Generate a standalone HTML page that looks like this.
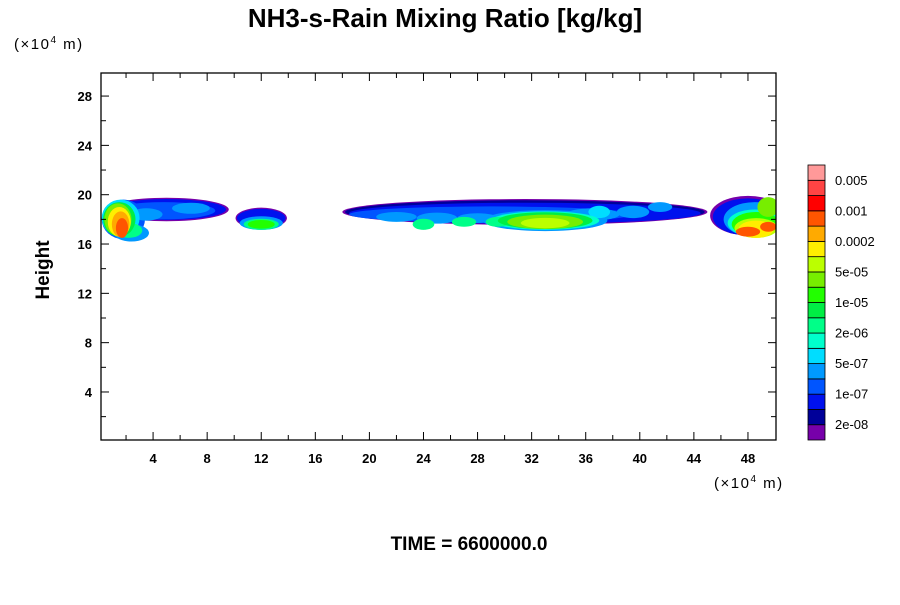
<!DOCTYPE html>
<html><head><meta charset="utf-8"><style>
body{margin:0;background:#fff}
svg text{font-family:"Liberation Sans",sans-serif}
</style></head><body>
<svg id="c" width="900" height="600" xmlns="http://www.w3.org/2000/svg">
<text x="445" y="27" text-anchor="middle" font-size="26" font-weight="bold">NH3-s-Rain Mixing Ratio [kg/kg]</text>
<text x="14" y="49" font-size="15" letter-spacing="1.5">(×10<tspan dy="-6" font-size="10">4</tspan><tspan dy="6">  m)</tspan></text>
<text x="714" y="488" font-size="15" letter-spacing="1.5">(×10<tspan dy="-6" font-size="10">4</tspan><tspan dy="6">  m)</tspan></text>
<text transform="translate(49,270) rotate(-90)" text-anchor="middle" font-size="19" font-weight="bold">Height</text>
<text x="469" y="550" text-anchor="middle" font-size="19" font-weight="bold">TIME = 6600000.0</text>
<g id="plot"></g>
<g id="axes"></g>
<g id="cbar"></g>
</svg>
<script>
const xTicks=[4,8,12,16,20,24,28,32,36,40,44,48];
const yTicks=[4,8,12,16,20,24,28];
const colors=["#7700aa","#000099","#0011ee","#0055ff","#0099ff","#00ddff","#00ffcc","#00ff88","#00ee44","#22ff00","#77ee00","#bbff00","#ffee00","#ffaa00","#ff5500","#ff0000","#ff4444","#ff9999"];
const cbarLabels=["2e-08","1e-07","5e-07","2e-06","1e-05","5e-05","0.0002","0.001","0.005"];
// blobs: [cx, cy, rx, ry, level] in data units
const blobs=[
[5.0,18.8,4.6,0.95,0],[5.0,18.8,4.4,0.85,2],[4.8,18.7,3.8,0.7,3],[6.8,18.9,1.4,0.45,4],[3.5,18.4,1.2,0.5,4],
[1.8,18.0,1.6,1.6,3],[2.4,16.9,1.3,0.7,4],[1.6,18.1,1.4,1.5,5],[2.2,17.1,1.0,0.6,7],[1.5,18.0,1.2,1.4,8],
[1.4,18.0,1.0,1.3,10],[1.5,17.8,0.85,1.2,12],[1.6,17.6,0.65,1.05,13],[1.7,17.3,0.45,0.8,14],
[12.0,18.1,1.9,0.85,0],[12.0,18.1,1.8,0.75,2],[12.0,17.7,1.6,0.55,4],[12.0,17.6,1.3,0.45,7],[12.0,17.6,1.0,0.35,9],
[31.5,18.6,13.5,1.05,0],[31.5,18.6,13.3,0.95,1],[31.5,18.5,13.0,0.85,2],[29.0,18.4,10.5,0.65,3],
[22.0,18.2,1.5,0.4,4],[25.0,18.1,1.5,0.45,4],[28.0,18.1,1.5,0.4,4],[36.5,18.4,2.0,0.5,4],[39.5,18.6,1.2,0.5,4],
[33.0,17.9,4.6,0.85,4],[33.0,17.9,4.0,0.75,6],[33.0,17.9,3.5,0.68,8],[33.0,17.8,2.8,0.58,10],[33.0,17.7,1.8,0.42,11],
[24.0,17.6,0.8,0.45,7],[27.0,17.8,0.9,0.4,7],[29.5,17.8,0.9,0.4,7],[37.0,18.6,0.8,0.5,5],[41.5,19.0,0.9,0.4,4],
[48.0,18.3,2.8,1.6,0],[48.0,18.2,2.6,1.5,2],[48.5,18.0,2.3,1.4,4],[48.5,17.7,2.0,1.1,6],
[48.6,17.6,1.8,1.0,9],[48.6,17.3,1.6,0.8,11],[48.6,17.2,1.3,0.7,12],[48.0,17.0,0.9,0.4,14],[49.5,17.4,0.6,0.4,14],[49.5,19.0,0.8,0.8,10]
];
const NS="http://www.w3.org/2000/svg";
const X0=101,X1=776,Y0=73,Y1=440;
function xs(v){return 99+v*13.52;}
function ys(v){return 441.3-v*12.33;}
function mk(t,a,p){const e=document.createElementNS(NS,t);for(const k in a)e.setAttribute(k,a[k]);p.appendChild(e);return e;}
const plot=document.getElementById('plot');
const cp=mk('clipPath',{id:'cl'},plot);mk('rect',{x:X0,y:Y0,width:X1-X0,height:Y1-Y0},cp);
const g=mk('g',{'clip-path':'url(#cl)'},plot);
blobs.slice().sort((a,b)=>a[4]-b[4]).forEach(b=>{
 const e=mk('ellipse',{cx:xs(b[0]),cy:ys(b[1]),rx:b[2]*13.52,ry:b[3]*12.33,fill:colors[b[4]]},g);
 
 
});
const ax=document.getElementById('axes');
const fr=mk('rect',{x:X0,y:Y0,width:X1-X0,height:Y1-Y0,fill:'none',stroke:'#000','stroke-width':1.3},ax);


for(let v=2;v<50;v+=2){const x=xs(v),l=v%4==0?8:5;mk('line',{x1:x,x2:x,y1:Y1,y2:Y1-l,stroke:'#000'},ax);mk('line',{x1:x,x2:x,y1:Y0,y2:Y0+l,stroke:'#000'},ax);}
for(let v=2;v<30;v+=2){const y=ys(v),l=v%4==0?8:5;mk('line',{x1:X0,x2:X0+l,y1:y,y2:y,stroke:'#000'},ax);mk('line',{x1:X1,x2:X1-l,y1:y,y2:y,stroke:'#000'},ax);}
xTicks.forEach(v=>{const t=mk('text',{x:xs(v),y:463,'text-anchor':'middle','font-size':13,'font-weight':'bold'},ax);t.textContent=v;
 
 });
yTicks.forEach(v=>{const t=mk('text',{x:92,y:ys(v)+5,'text-anchor':'end','font-size':13,'font-weight':'bold'},ax);t.textContent=v;
 
 });
const cb=document.getElementById('cbar');
const bh=275/colors.length;
colors.forEach((c,i)=>{const r=mk('rect',{x:808,y:440-(i+1)*bh,width:17,height:bh,fill:c,stroke:'#000','stroke-width':0.8},cb);
 
 });
cbarLabels.forEach((s,i)=>{const t=mk('text',{x:835,y:440-(2*i+1)*bh+4.5,'font-size':13},cb);t.textContent=s;
 
 });
</script>
</body></html>
